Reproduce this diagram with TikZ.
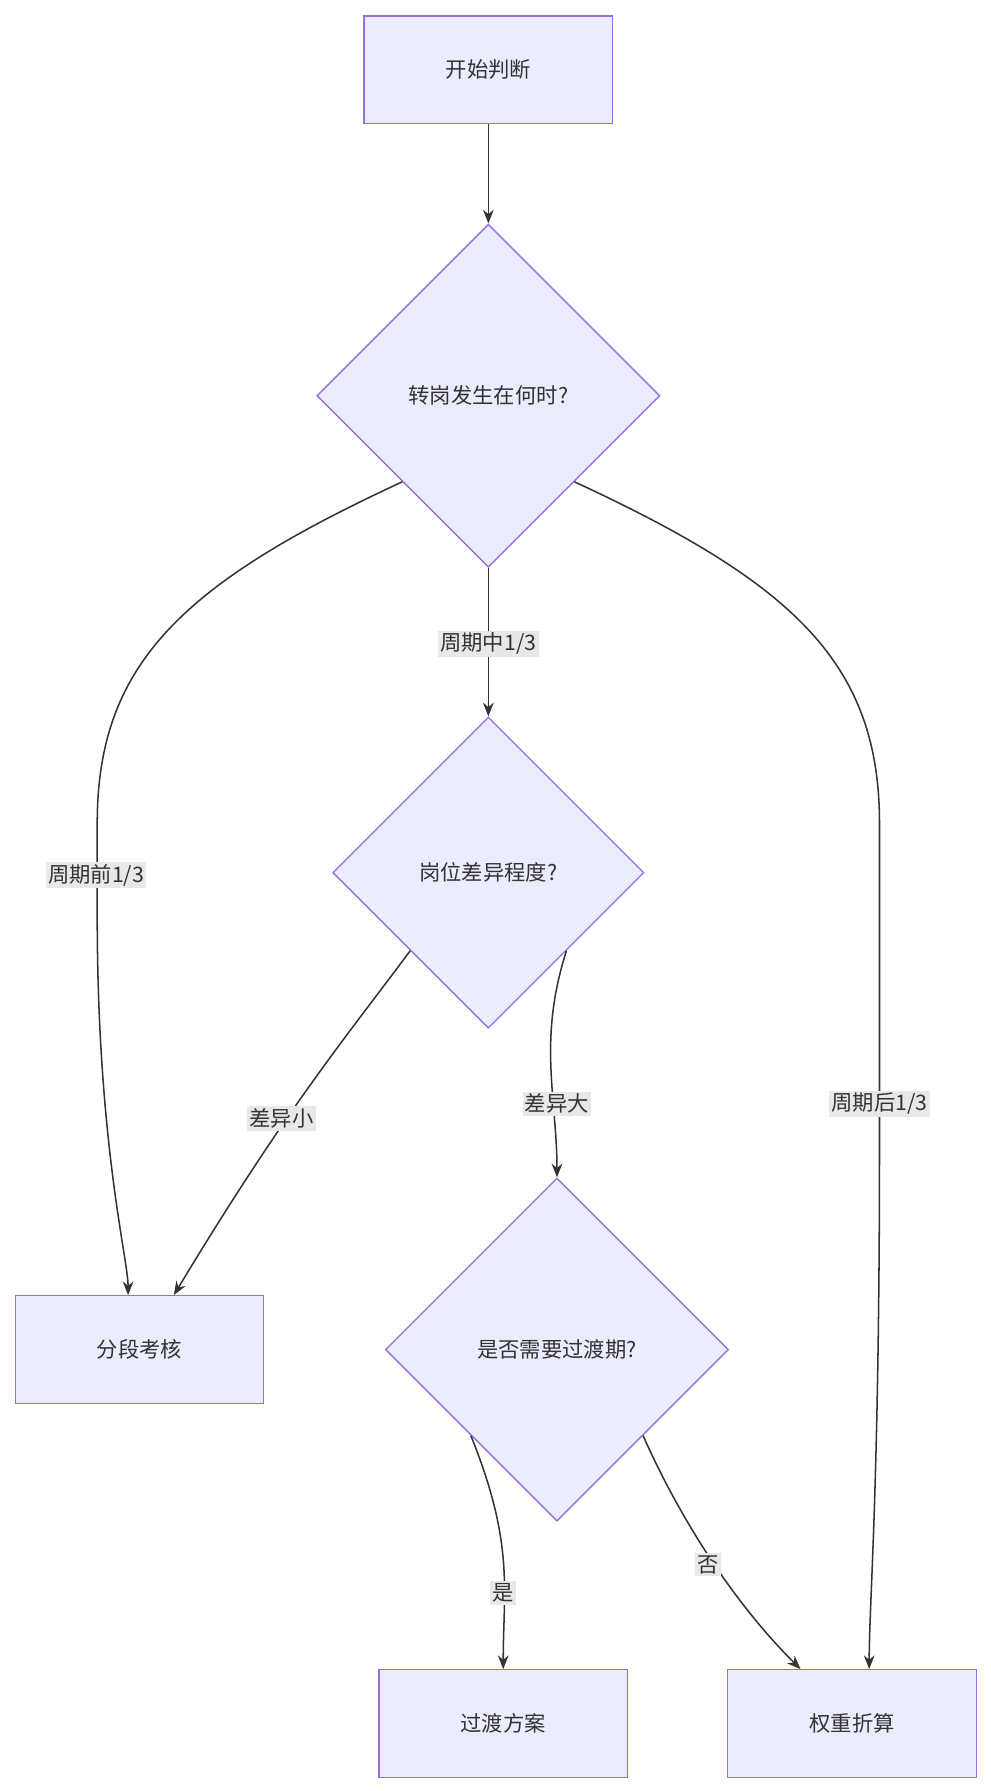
\documentclass[tikz,border=0pt]{standalone}
\usepackage{fontspec}
\setmainfont{Noto Sans CJK SC}
\usetikzlibrary{shapes.geometric,arrows.meta}
\definecolor{nfill}{HTML}{ECECFF}
\definecolor{nline}{HTML}{9370DB}
\definecolor{eline}{HTML}{333333}
\definecolor{lbg}{HTML}{E8E8E8}
\begin{document}
\begin{tikzpicture}[x=0.75pt,y=-0.75pt,
  box/.style={draw=nline,fill=nfill,line width=0.9pt,minimum width=163pt,minimum height=70.5pt,font=\fontsize{14}{16}\selectfont,text=eline},
  dia/.style={draw=nline,fill=nfill,line width=0.9pt,diamond,inner sep=0pt,font=\fontsize{14}{16}\selectfont,text=eline},
  lbl/.style={fill=lbg,inner sep=1.5pt,font=\fontsize{14}{16}\selectfont,text=eline},
  edge/.style={draw=eline,line width=1pt,-{Stealth[length=9pt,width=7pt]}}]
\useasboundingbox (0,0) rectangle (866,1566);
\node[box] (start) at (427,61) {开始判断};
\node[dia,minimum width=225pt,minimum height=225pt] (d1) at (427,346) {转岗发生在何时?};
\node[dia,minimum width=204pt,minimum height=204pt] (d2) at (427,763) {岗位差异程度?};
\node[box] (seg) at (122,1180) {分段考核};
\node[dia,minimum width=225pt,minimum height=225pt] (d3) at (487,1180) {是否需要过渡期?};
\node[box] (trans) at (440,1507) {过渡方案};
\node[box] (weight) at (745,1507) {权重折算};
\draw[edge] (start) -- (d1);
\draw[edge] (d1) -- (d2);
\draw[edge] (d1.south west) .. controls (160,510) and (85,580) .. (85,720) -- (85,800) .. controls (85,1000) and (112,1100) .. (seg.north -| 112,0);
\draw[edge] (d1.south east) .. controls (694,510) and (769,580) .. (769,720) -- (769,1000) .. controls (769,1300) and (760,1400) .. (weight.north -| 760,0);
\draw[edge] (d2.south west) .. controls (300,910) and (250,970) .. (seg.north -| 152,0);
\draw[edge] (d2.south east) .. controls (470,910) and (487,960) .. (d3.north);
\draw[edge] (d3.south west) .. controls (450,1350) and (440,1390) .. (trans.north);
\draw[edge] (d3.south east) .. controls (600,1340) and (650,1410) .. (weight.north -| 700,0);
\node[lbl] (l1) at (427,563) {周期中1/3};
\node[lbl] (l2) at (84,765) {周期前1/3};
\node[lbl] (l3) at (769,965) {周期后1/3};
\node[lbl] (l4) at (246,978) {差异小};
\node[lbl] (l5) at (487,965) {差异大};
\node[lbl] (l6) at (440,1393) {是};
\node[lbl] (l7) at (619,1368) {否};
\end{tikzpicture}
\end{document}
